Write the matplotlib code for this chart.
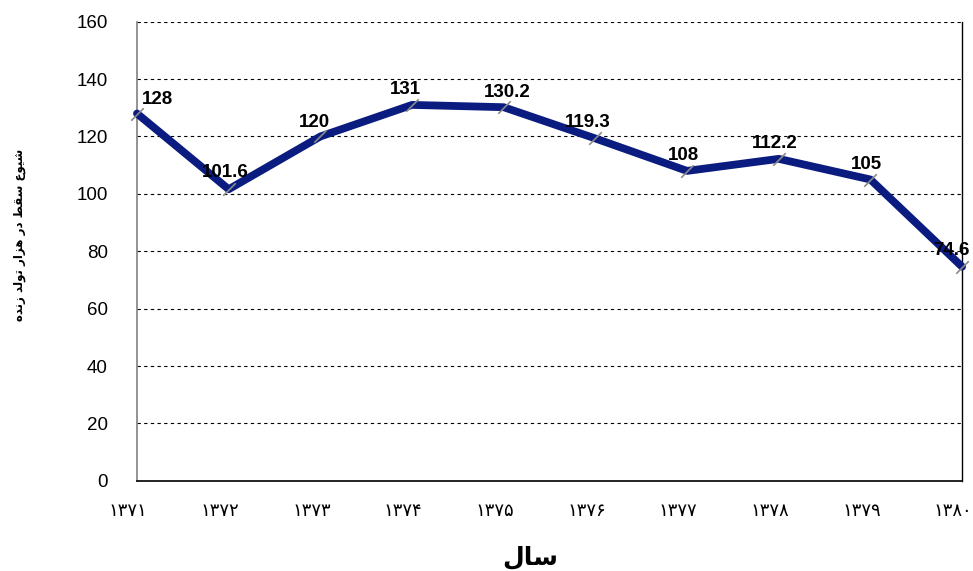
import matplotlib
matplotlib.use("Agg")
import matplotlib.pyplot as plt
import matplotlib.transforms as mtransforms
from matplotlib.path import Path

years = ["۱۳۷۱", "۱۳۷۲", "۱۳۷۳", "۱۳۷۴", "۱۳۷۵", "۱۳۷۶", "۱۳۷۷", "۱۳۷۸", "۱۳۷۹", "۱۳۸۰"]
rates = [128, 101.6, 120, 131, 130.2, 119.3, 108, 112.2, 105, 74.6]
rate_labels = ["128", "101.6", "120", "131", "130.2", "119.3", "108", "112.2", "105", "74.6"]
y_title = "شیوع سقط در هزار تولد زنده"
x_title = "سال"

# label offsets in pixels (dx, dy) of the text centre
label_off = [(21, 14), (-3, 17), (-6, 14), (-7, 15), (4, 15), (-8, 16), (-4, 15), (-4, 15), (-4, 15), (-11, 16)]

# matplotlib has no arabic shaping -> map to presentation forms by hand
FORMS = {
    "ا": ("\uFE8D", "\uFE8E", None, None),
    "ت": ("\uFE95", "\uFE96", "\uFE97", "\uFE98"),
    "د": ("\uFEA9", "\uFEAA", None, None),
    "ر": ("\uFEAD", "\uFEAE", None, None),
    "ز": ("\uFEAF", "\uFEB0", None, None),
    "س": ("\uFEB1", "\uFEB2", "\uFEB3", "\uFEB4"),
    "ش": ("\uFEB5", "\uFEB6", "\uFEB7", "\uFEB8"),
    "ط": ("\uFEC1", "\uFEC2", "\uFEC3", "\uFEC4"),
    "ع": ("\uFEC9", "\uFECA", "\uFECB", "\uFECC"),
    "ق": ("\uFED5", "\uFED6", "\uFED7", "\uFED8"),
    "ل": ("\uFEDD", "\uFEDE", "\uFEDF", "\uFEE0"),
    "ن": ("\uFEE5", "\uFEE6", "\uFEE7", "\uFEE8"),
    "ه": ("\uFEE9", "\uFEEA", "\uFEEB", "\uFEEC"),
    "و": ("\uFEED", "\uFEEE", None, None),
    "ی": ("\uFBFC", "\uFBFD", "\uFBFE", "\uFBFF"),
}


def shape(word):
    chars = list(word)
    out = []
    i = 0
    while i < len(chars):
        c = chars[i]
        prev = chars[i - 1] if i > 0 else None
        joins_prev = prev in FORMS and FORMS[prev][2] is not None
        if c == "ل" and i + 1 < len(chars) and chars[i + 1] == "ا":
            out.append("\uFEFC" if joins_prev else "\uFEFB")
            i += 2
            continue
        nxt = chars[i + 1] if i + 1 < len(chars) else None
        f = FORMS[c]
        joins_next = f[2] is not None and nxt in FORMS
        if joins_prev and joins_next:
            out.append(f[3])
        elif joins_prev:
            out.append(f[1])
        elif joins_next:
            out.append(f[2])
        else:
            out.append(f[0])
        i += 1
    return "".join(out)


def rtl(text):
    return " ".join(shape(w) for w in text.split(" "))[::-1]


plt.rcParams['font.family'] = ['Liberation Sans', 'DejaVu Sans']

fig = plt.figure(figsize=(9.73, 5.71), dpi=100)
ax = fig.add_axes([0.1408, 0.158, 0.848, 0.804])

x = list(range(len(years)))
pencil = Path([(-1, -1), (1, 1)], [Path.MOVETO, Path.LINETO])
ax.plot(x, rates, color='#0b1c80', lw=5.6, solid_capstyle='round', solid_joinstyle='round',
        marker=pencil, markersize=9, markeredgecolor='#8a8a8a', markeredgewidth=1.2, zorder=3,
        clip_on=False)

for xi, v, lab, off in zip(x, rates, rate_labels, label_off):
    ax.annotate(lab, (xi, v), xytext=off, textcoords='offset pixels', ha='center', va='center',
                fontsize=13.5, fontweight='bold', zorder=4)

ax.set_xlim(0, 9)
ax.set_ylim(0, 160)
ax.set_yticks(range(0, 161, 20))
ax.tick_params(axis='y', labelsize=13.5, length=0, pad=21)
ax.set_xticks(x)
ax.set_xticklabels(years, family=['DejaVu Sans'], fontsize=13)
ax.tick_params(axis='x', length=0, pad=15)
shift = mtransforms.ScaledTranslation(-9 / 100, 0, fig.dpi_scale_trans)
for t in ax.get_xticklabels():
    t.set_transform(t.get_transform() + shift)
ax.yaxis.grid(True, linestyle=(0, (3, 3)), color='black', lw=0.8)
ax.set_axisbelow(True)
ax.spines['top'].set_visible(False)
ax.spines['left'].set_color('#808080')
ax.spines['left'].set_linewidth(1.2)
ax.spines['bottom'].set_linewidth(1.2)
ax.spines['right'].set_linewidth(1.0)

ax.set_ylabel(rtl(y_title), family=['DejaVu Sans'], fontweight='bold', fontsize=8.5)
ax.yaxis.set_label_coords(-0.135, 0.536)
ax.set_xlabel(rtl(x_title), family=['DejaVu Sans'], fontweight='bold', fontsize=18, va='center')
ax.xaxis.set_label_coords(0.476, -0.166)

fig.savefig('out.png', dpi=100)
